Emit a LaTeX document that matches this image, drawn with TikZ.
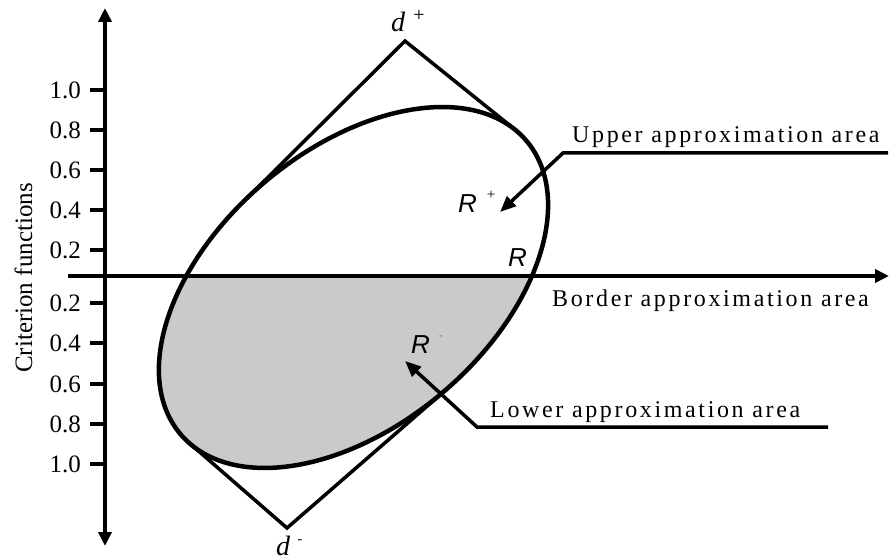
\documentclass[tikz,border=0pt]{standalone}
\usepackage{fontspec}
\setmainfont{Liberation Serif}
\newfontfamily\spacedfont[LetterSpace=11]{Liberation Serif}
\newfontfamily\rsansfont{Liberation Sans}
\usetikzlibrary{arrows.meta}
\definecolor{lowershade}{RGB}{202,202,202}
\begin{document}
\begin{tikzpicture}[x=1bp,y=-1bp,
  axisline/.style={line width=4bp},
  tickline/.style={line width=4bp},
  outline/.style={line width=4.5bp},
  edgeline/.style={line width=3.5bp, line join=miter},
  leader/.style={line width=3.5bp, -{Triangle[length=16bp,width=13bp]}},
  ticklbl/.style={font=\fontsize{25bp}{30bp}\selectfont, anchor=east, inner sep=0},
  arealbl/.style={font=\spacedfont\fontsize{24bp}{29bp}\selectfont, anchor=base west, inner sep=0},
  rlbl/.style={font=\rsansfont\itshape\fontsize{26bp}{31bp}\selectfont, anchor=base west, inner sep=0},
  dlbl/.style={font=\itshape\fontsize{28bp}{33bp}\selectfont, anchor=base west, inner sep=0},
  suplbl/.style={inner sep=0}
]
\useasboundingbox (0,0) rectangle (890,560);

\coordinate (C) at (353.5,287.5);

% shaded lower part of the ellipse
\begin{scope}
  \clip (0,276) rectangle (890,560);
  \fill[lowershade, rotate around={40.3:(C)}] (C) ellipse [x radius=226.8, y radius=137.8];
\end{scope}

% axes
\coordinate (vtop) at (105,8);
\coordinate (vbot) at (105,546);
\coordinate (hleft) at (68,276);
\coordinate (hright) at (889,276);
\draw[axisline, {Triangle[length=14bp,width=13bp]}-{Triangle[length=14bp,width=13bp]}] (vbot) -- (vtop);
\draw[axisline, -{Triangle[length=14bp,width=13bp]}] (hleft) -- (hright);

% ticks and their labels
\foreach \yy/\tt in {90/1.0,130/0.8,170/0.6,210/0.4,250/0.2,303/0.2,343/0.4,384/0.6,424/0.8,464/1.0}{
  \coordinate (ta\yy) at (90,\yy);
  \coordinate (tb\yy) at (105,\yy);
  \draw[tickline] (ta\yy) -- (tb\yy);
  \node[ticklbl] (tl\yy) at (81,\yy) {\tt};
}

\node[rotate=90, anchor=base, inner sep=0, font=\fontsize{25bp}{30bp}\selectfont] (ylab) at (32,278) {Criterion functions};

% diamond sides
\coordinate (dtop) at (405,41);
\coordinate (tl) at (242.8,202.3);
\coordinate (tr) at (515,129.6);
\coordinate (dbot) at (287,528);
\coordinate (bl) at (189.5,443.2);
\coordinate (br) at (446.2,389.6);
\draw[edgeline] (tl) -- (dtop) -- (tr);
\draw[edgeline] (bl) -- (dbot) -- (br);

% ellipse
\draw[outline, rotate around={40.3:(C)}] (C) ellipse [x radius=226.8, y radius=137.8];

% leaders
\coordinate (u1) at (888,153);
\coordinate (u2) at (563,153);
\coordinate (u3) at (500,212);
\draw[leader] (u1) -- (u2) -- (u3);
\coordinate (l1) at (828,427);
\coordinate (l2) at (477,427);
\coordinate (l3) at (405,361);
\draw[leader] (l1) -- (l2) -- (l3);

% area labels
\node[arealbl] (upper) at (572,143) {Upper approximation area};
\node[arealbl] (border) at (552,307) {Border approximation area};
\node[arealbl] (lower) at (490,417) {Lower approximation area};

% R labels
\node[rlbl] (rplus) at (458,213) {R};
\node[suplbl, font=\fontsize{15bp}{18bp}\selectfont] (rplussup) at (491,195) {+};
\node[rlbl] (rmid) at (508,267) {R};
\node[rlbl] (rminus) at (411,354) {R};
\node[suplbl, font=\fontsize{13bp}{16bp}\selectfont, text=gray] (rminussup) at (441,338) {-};

% d labels
\node[dlbl] (dplus) at (391,32) {d};
\node[suplbl, font=\fontsize{20bp}{24bp}\selectfont] (dplussup) at (419,16) {+};
\node[dlbl] (dminus) at (276,555) {d};
\node[suplbl, font=\fontsize{14bp}{17bp}\selectfont] (dminussup) at (300,542) {-};
\end{tikzpicture}
\end{document}
